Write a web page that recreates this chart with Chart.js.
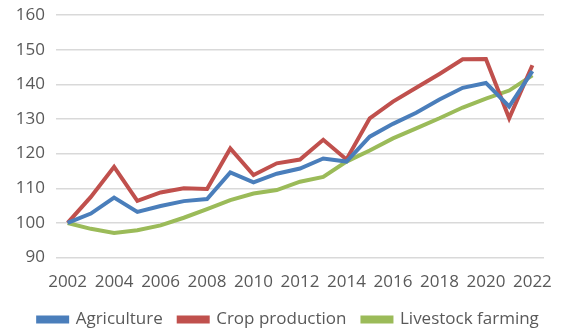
<!DOCTYPE html>
<html>
<head>
    <title>Agriculture output index</title>
    <script src="https://cdn.jsdelivr.net/npm/chart.js"></script>
    <style>
        html, body { margin: 0; padding: 0; background: #fff; }
        #wrap { width: 566px; height: 331px; }
    </style>
</head>
<body>
    <div id="wrap"><canvas id="indexChart"></canvas></div>

    <script>
        // index, 2002 = 100
        const years = ['2002','2003','2004','2005','2006','2007','2008','2009','2010','2011','2012',
                       '2013','2014','2015','2016','2017','2018','2019','2020','2021','2022'];
        const agriculture = [100, 102.7, 107.3, 103.2, 104.9, 106.3, 106.9, 114.6, 111.7, 114.2, 115.7,
                             118.6, 117.7, 124.9, 128.6, 131.8, 135.6, 139.0, 140.4, 133.6, 143.8];
        const cropProduction = [100, 107.5, 116.2, 106.4, 108.8, 110.0, 109.8, 121.5, 113.8, 117.2, 118.3,
                                124.0, 118.3, 130.2, 135.0, 139.0, 143.0, 147.2, 147.3, 130.2, 145.5];
        const livestockFarming = [100, 98.3, 97.1, 97.9, 99.3, 101.5, 104.0, 106.6, 108.5, 109.5, 111.9,
                                  113.3, 117.7, 120.9, 124.4, 127.3, 130.2, 133.3, 135.9, 138.2, 142.6];
        const yTicks = [90, 100, 110, 120, 130, 140, 150, 160];

        const textColor = '#595959';
        const fontFamily = '"Open Sans", "Liberation Sans", sans-serif';

        function series(label, data, color) {
            return {
                label: label,
                data: data,
                borderColor: color,
                backgroundColor: color,
                borderWidth: 4,
                pointRadius: 0,
                tension: 0
            };
        }

        // nudge the legend row a little to the right
        const legendShift = {
            id: 'legendShift',
            afterUpdate(chart) {
                chart.legend.left += 9;
                chart.legend.right += 9;
            }
        };

        const ctx = document.getElementById('indexChart').getContext('2d');
        const chart = new Chart(ctx, {
            type: 'line',
            data: {
                labels: years,
                datasets: [
                    series('Agriculture', agriculture, '#4a7ebb'),
                    series('Crop production', cropProduction, '#c0504d'),
                    series('Livestock farming', livestockFarming, '#9bbb59')
                ]
            },
            plugins: [legendShift],
            options: {
                responsive: true,
                maintainAspectRatio: false,
                animation: false,
                layout: { padding: { left: 0, right: 7, top: 15, bottom: -7 } },
                plugins: {
                    legend: {
                        position: 'bottom',
                        labels: {
                            color: textColor,
                            font: { family: fontFamily, size: 17 },
                            boxWidth: 29,
                            boxHeight: 4,
                            padding: 16
                        }
                    },
                    tooltip: { enabled: false }
                },
                scales: {
                    x: {
                        offset: true,
                        grid: { display: false, drawTicks: false },
                        border: { display: false },
                        ticks: {
                            color: textColor,
                            font: { family: fontFamily, size: 17 },
                            autoSkip: false,
                            maxRotation: 0,
                            padding: 14,
                            callback: function (value, index) {
                                return index % 2 === 0 ? years[index] : '';
                            }
                        },
                        afterFit: function (axis) {
                            axis.height -= 11;
                        }
                    },
                    y: {
                        min: yTicks[0],
                        max: yTicks[yTicks.length - 1],
                        afterBuildTicks: function (axis) {
                            axis.ticks = yTicks.map(v => ({ value: v }));
                        },
                        afterFit: function (axis) {
                            // fixed gutter for the tick labels, no extra room above the top line
                            axis.width = 56;
                            axis.paddingTop = 0;
                        },
                        grid: { color: '#d9d9d9', lineWidth: 1.5, drawTicks: false },
                        border: { display: false },
                        ticks: {
                            color: textColor,
                            font: { family: fontFamily, size: 17 },
                            padding: 11
                        }
                    }
                }
            }
        });
    </script>
</body>
</html>
